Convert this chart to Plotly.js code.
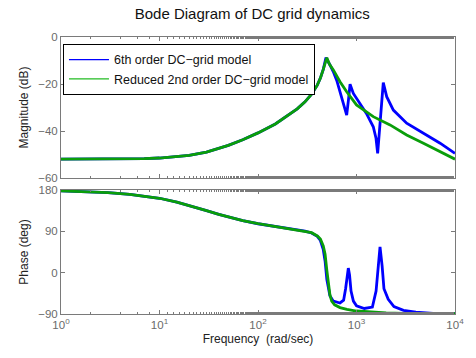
<!DOCTYPE html>
<html>
<head>
<meta charset="utf-8">
<script src="https://cdn.plot.ly/plotly-3.0.1.min.js"></script>
<style>html,body{margin:0;padding:0;background:#fff;}#chart{width:476px;height:358px;}</style>
</head>
<body>
<div id="chart"></div>
<script>
// Reduced 2nd order model (green) - frequency (rad/s) and magnitude (dB)
var greenMagFreq = [1,2,3,5,7,10,15,20,30,40,50,70,100,150,200,250,300,350,400,430,460,480,500,530,582,680,795,1000,1480,2190,3230,4780,7060,10000];
var greenMag     = [-52.0,-52.0,-52.0,-51.9,-51.8,-51.5,-51.0,-50.4,-49.0,-47.5,-46.1,-43.7,-40.8,-37.0,-33.6,-30.6,-27.6,-24.3,-20.5,-17.5,-13.8,-11.2,-8.8,-11.5,-14.0,-19.0,-23.3,-28.9,-33.9,-37.4,-41.7,-45.2,-48.8,-52.0];

// 6th order model (blue)
var blueMagFreq = [1,2,3,5,7,10,15,20,30,40,50,70,100,150,200,250,300,350,400,430,460,480,490,538,582,630,680,735,795,832,860,929,1086,1260,1480,1578,1640,1733,1870,2026,2366,3230,4780,7060,10000];
var blueMag     = [-52.0,-52.0,-52.0,-51.9,-51.8,-51.5,-51.0,-50.4,-49.0,-47.5,-46.1,-43.7,-40.8,-37.0,-33.6,-30.6,-27.6,-24.3,-20.5,-17.5,-13.8,-11.0,-8.8,-11.9,-14.8,-18.5,-23.3,-28.2,-33.2,-26.1,-20.1,-24.0,-28.2,-32.5,-38.2,-43.1,-49.5,-36.0,-19.4,-25.4,-31.1,-36.7,-41.0,-45.2,-49.5];

// Phase (deg)
var greenPhaseFreq = [1,2,3,5,7,10,15,20,30,40,50,70,100,150,200,250,300,350,400,430,460,480,500,537,560,600,680,800,1000,1500,2000,3000,5000,10000];
var greenPhase     = [178,176,174.3,170.5,166.9,162,153.4,146.3,135,126.9,121,113.2,106.5,100.5,96.5,93.5,90.5,87,80,73,58,40,5,-48,-62,-70,-76,-80,-83.5,-86.5,-87.5,-88.5,-89.2,-89.5];

var bluePhaseFreq = [1,2,3,5,7,10,15,20,30,40,50,70,100,150,200,250,300,350,400,430,460,480,500,537,582,680,740,775,800,826,850,880,930,1000,1200,1450,1580,1650,1733,1820,1900,2100,2400,3000,4000,6000,10000];
var bluePhase     = [178,176,174.3,170.5,166.9,162,153.4,146.3,135,126.9,121,113.2,106.5,100.5,96.5,93.5,90.5,86.5,79,70,50,25,-15,-50,-62,-66,-60,-35,-5,10,-5,-40,-62,-72,-78,-75,-40,10,56,15,-35,-58,-74,-82,-86,-88.5,-89.5];

var xTickVals = [1,10,100,1000,10000];
var xTickText = ['10<sup>0</sup>','10<sup>1</sup>','10<sup>2</sup>','10<sup>3</sup>','10<sup>4</sup>'];
var magTicks = [0,-20,-40,-60];
var phaseTicks = [-90,0,90,180];

var blue = '#0000ff', green = '#0a9e0a';
var traces = [
  {x: blueMagFreq, y: blueMag, xaxis:'x', yaxis:'y', mode:'lines', line:{color:blue,width:2.8}, showlegend:false, hoverinfo:'skip'},
  {x: greenMagFreq, y: greenMag, xaxis:'x', yaxis:'y', mode:'lines', line:{color:green,width:2.8}, showlegend:false, hoverinfo:'skip'},
  {x: bluePhaseFreq, y: bluePhase, xaxis:'x2', yaxis:'y2', mode:'lines', line:{color:blue,width:2.8}, showlegend:false, hoverinfo:'skip'},
  {x: greenPhaseFreq, y: greenPhase, xaxis:'x2', yaxis:'y2', mode:'lines', line:{color:green,width:2.8}, showlegend:false, hoverinfo:'skip'},
  {x:[null], y:[null], xaxis:'x', yaxis:'y', mode:'lines', name:'6th order DC\u2212grid model', line:{color:'#0000ff',width:1.2}},
  {x:[null], y:[null], xaxis:'x', yaxis:'y', mode:'lines', name:'Reduced 2nd order DC\u2212grid model', line:{color:'#22bb22',width:1.2}}
];

var axisCommon = {
  showline:true, linecolor:'#7a7a7a', linewidth:1, mirror:'ticks',
  ticks:'inside', ticklen:4, tickcolor:'#7a7a7a',
  showgrid:false, zeroline:false,
  tickfont:{family:'Liberation Sans, Arial, sans-serif', size:11.5, color:'#6a6a6a'}
};

var layout = {
  width:476, height:358,
  margin:{l:61, r:21, t:37, b:44},
  paper_bgcolor:'#fff', plot_bgcolor:'#fff',
  font:{family:'Liberation Sans, Arial, sans-serif'},
  title:{text:'Bode Diagram of DC grid dynamics', font:{size:15, color:'#111'}, x:0.53, xanchor:'center', y:0.975, yanchor:'top'},
  showlegend:true,
  legend:{x:0.005, y:0.975, xanchor:'left', yanchor:'top', bgcolor:'#fff', bordercolor:'#000', borderwidth:1,
          font:{size:12.5, color:'#111'}, tracegroupgap:0, itemwidth:40},
  xaxis: Object.assign({}, axisCommon, {type:'log', range:[0,4], domain:[0,1], anchor:'y', showticklabels:false,
          tickvals:xTickVals, minor:{ticks:'inside', ticklen:2, tickcolor:'#7a7a7a', showgrid:false}}),
  yaxis: Object.assign({}, axisCommon, {range:[-60,0], domain:[0.491,1], anchor:'x', tickvals:magTicks, ticktext:magTicks.map(function(v){return v<0?'\u2212'+(-v):String(v);}),
          title:{text:'Magnitude (dB)', font:{size:12, color:'#222'}, standoff:6}}),
  xaxis2: Object.assign({}, axisCommon, {type:'log', range:[0,4], domain:[0,1], anchor:'y2', tickvals:xTickVals, ticktext:xTickText,
          minor:{ticks:'inside', ticklen:2, tickcolor:'#7a7a7a', showgrid:false},
          title:{text:'Frequency  (rad/sec)', font:{size:12, color:'#222'}, standoff:4}}),
  yaxis2: Object.assign({}, axisCommon, {range:[-90,180], domain:[0,0.4477], anchor:'x2', tickvals:phaseTicks, ticktext:phaseTicks.map(function(v){return v<0?'\u2212'+(-v):String(v);}),
          title:{text:'Phase (deg)', font:{size:12, color:'#222'}, standoff:6}})
};

Plotly.newPlot('chart', traces, layout, {staticPlot:true, displayModeBar:false});
</script>
</body>
</html>
